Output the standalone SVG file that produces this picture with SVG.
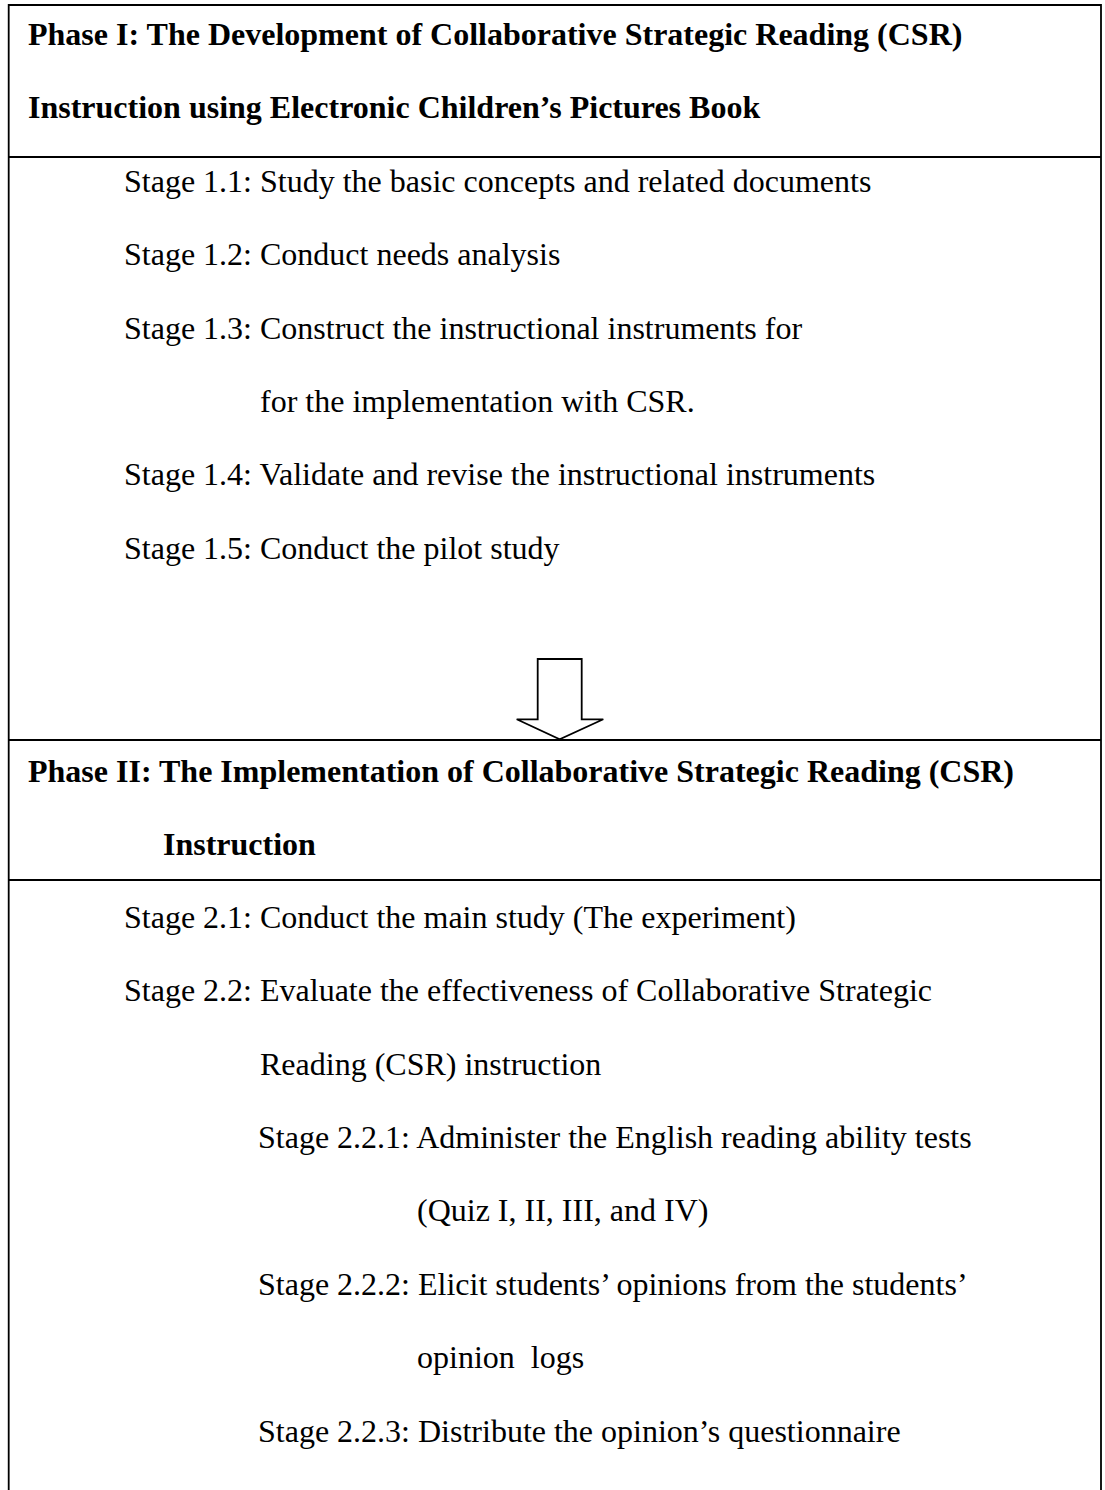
<svg xmlns="http://www.w3.org/2000/svg" width="1105" height="1490" viewBox="0 0 1105 1490">
<style>
.t{font-family:"Liberation Serif","Times New Roman",serif;font-size:32px;fill:#000}
.b{font-weight:bold}
.ln{stroke:#000;stroke-width:1.8;fill:none}
</style>
<rect x="0" y="0" width="1105" height="1490" fill="#fff"/>
<g id="frame">
<path class="ln" d="M8.7,1490 V5 H1101 V1490"/>
</g>
<g id="phase1">
<line class="ln" x1="8.7" y1="157" x2="1101" y2="157"/>
<text class="t b" x="28" y="45">Phase I: The Development of Collaborative Strategic Reading (CSR)</text>
<text class="t b" x="28" y="118">Instruction using Electronic Children’s Pictures Book</text>
<text class="t" x="124" y="191.7">Stage 1.1: Study the basic concepts and related documents</text>
<text class="t" x="124" y="265.1">Stage 1.2: Conduct needs analysis</text>
<text class="t" x="124" y="338.5">Stage 1.3: Construct the instructional instruments for</text>
<text class="t" x="260" y="411.9">for the implementation with CSR.</text>
<text class="t" x="124" y="485.3">Stage 1.4: Validate and revise the instructional instruments</text>
<text class="t" x="124" y="558.7">Stage 1.5: Conduct the pilot study</text>
</g>
<g id="connectors">
<polygon class="ln" fill="#fff" points="537.7,659 581.7,659 581.7,719.3 603.3,719.3 559.7,739.3 516.7,719.3 537.7,719.3" style="fill:#fff"/>
</g>
<g id="phase2">
<line class="ln" x1="8.7" y1="740" x2="1101" y2="740"/>
<line class="ln" x1="8.7" y1="880" x2="1101" y2="880"/>
<text class="t b" x="28" y="781.7">Phase II: The Implementation of Collaborative Strategic Reading (CSR)</text>
<text class="t b" x="163" y="855">Instruction</text>
<text class="t" x="124" y="927.7">Stage 2.1: Conduct the main study (The experiment)</text>
<text class="t" x="124" y="1001.1">Stage 2.2: Evaluate the effectiveness of Collaborative Strategic</text>
<text class="t" x="260" y="1074.5">Reading (CSR) instruction</text>
<text class="t" x="258" y="1147.9">Stage 2.2.1: Administer the English reading ability tests</text>
<text class="t" x="417" y="1221.3">(Quiz I, II, III, and IV)</text>
<text class="t" x="258" y="1294.7">Stage 2.2.2: Elicit students’ opinions from the students’</text>
<text class="t" x="417" y="1368.1" xml:space="preserve">opinion  logs</text>
<text class="t" x="258" y="1441.5">Stage 2.2.3: Distribute the opinion’s questionnaire</text>
</g>
</svg>
